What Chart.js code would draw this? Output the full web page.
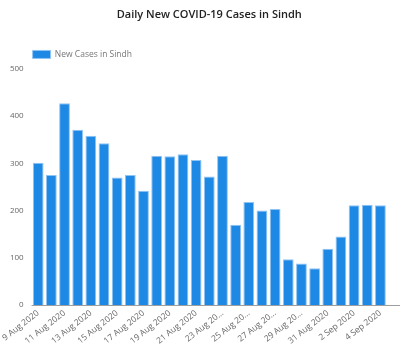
<!DOCTYPE html>
<html>
<head>
<meta charset="utf-8">
<script src="https://cdn.jsdelivr.net/npm/chart.js@4"></script>
<style>
  html, body { margin: 0; padding: 0; background: #fff; }
  #wrap { width: 400px; height: 347px; position: relative; }
</style>
</head>
<body>
<div id="wrap"><canvas id="chart"></canvas></div>
<script>
const dates = ['9 Aug 2020', '10 Aug 2020', '11 Aug 2020', '12 Aug 2020', '13 Aug 2020', '14 Aug 2020',
  '15 Aug 2020', '16 Aug 2020', '17 Aug 2020', '18 Aug 2020', '19 Aug 2020', '20 Aug 2020',
  '21 Aug 2020', '22 Aug 2020', '23 Aug 2020', '24 Aug 2020', '25 Aug 2020', '26 Aug 2020',
  '27 Aug 2020', '28 Aug 2020', '29 Aug 2020', '30 Aug 2020', '31 Aug 2020', '1 Sep 2020',
  '2 Sep 2020', '3 Sep 2020', '4 Sep 2020'];
const newCases = [301, 275, 427, 371, 358, 342, 270, 275, 242, 316, 315, 319, 307, 272, 316,
  170, 218, 200, 203, 97, 88, 78, 119, 145, 211, 212, 211];
const yTicks = [0, 100, 200, 300, 400, 500];

const seriesName = 'New Cases in Sindh';
const fontFam = "'Open Sans', 'Noto Sans', sans-serif";

// axis line in the original runs on past the last bar to the edge
const extendAxis = {
    id: 'extendAxis',
    afterDraw(chart) {
        const c = chart.ctx;
        const area = chart.chartArea;
        c.save();
        c.strokeStyle = '#9e9e9e';
        c.lineWidth = 1;
        c.beginPath();
        c.moveTo(area.left, area.bottom + 0.5);
        c.lineTo(chart.width, area.bottom + 0.5);
        c.stroke();
        c.restore();
    }
};

const ctx = document.getElementById('chart');
new Chart(ctx, {
    type: 'bar',
    data: {
        labels: dates,
        datasets: [{
            label: seriesName,
            data: newCases,
            backgroundColor: '#1e88e5',
            borderColor: '#90c4f3',
            borderWidth: 1,
            barPercentage: 0.82,
            categoryPercentage: 1.0,
        }]
    },
    options: {
        responsive: true,
        maintainAspectRatio: false,
        animation: false,
        layout: { padding: { left: 0, right: 13, top: 6, bottom: 0 } },
        scales: {
            y: {
                min: 0,
                max: 500,
                afterBuildTicks: axis => { axis.ticks = yTicks.map(v => ({ value: v })); },
                grid: { display: false, drawTicks: false },
                border: { display: false },
                ticks: { color: '#666', font: { family: fontFam, size: 8 }, padding: 8 }
            },
            x: {
                afterFit: axis => { axis.height = 42; },
                grid: { display: false, drawTicks: false },
                border: { display: false },
                ticks: {
                    autoSkip: false,
                    maxRotation: 38,
                    minRotation: 38,
                    color: '#666',
                    font: { family: fontFam, size: 8.5 },
                    padding: 3,
                    callback: function (val, i) {
                        if (i % 2 !== 0) return '';
                        const s = dates[i];
                        if (i >= 14 && i <= 20) return s.slice(0, s.length - 2) + '...';
                        return s;
                    }
                }
            }
        },
        plugins: {
            title: {
                display: true,
                text: 'Daily New COVID-19 Cases in Sindh',
                color: '#222',
                fullSize: false,
                font: { family: fontFam, size: 11, weight: '600' },
                padding: { top: 2, bottom: 28 }
            },
            legend: {
                display: true,
                align: 'start',
                fullSize: false,
                labels: {
                    boxWidth: 18,
                    boxHeight: 8,
                    color: '#777',
                    font: { family: fontFam, size: 8.5 },
                    padding: 1
                }
            },
            tooltip: { enabled: false }
        }
    },
    plugins: [extendAxis]
});
</script>
</body>
</html>
